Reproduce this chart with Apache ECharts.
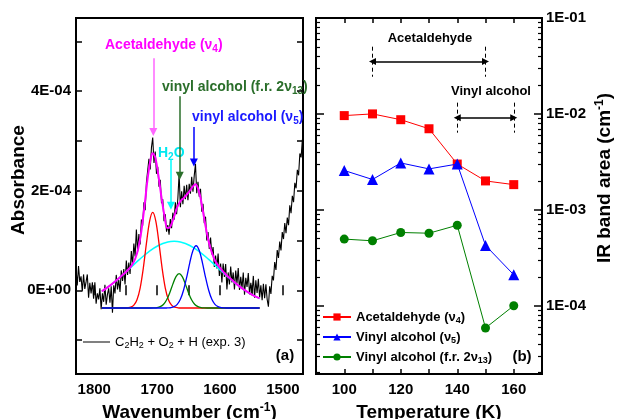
<!DOCTYPE html>
<html><head><meta charset="utf-8">
<script src="https://cdn.jsdelivr.net/npm/echarts@6/dist/echarts.min.js"></script>
<style>html,body{margin:0;padding:0;background:#fff}#c{width:617px;height:419px}</style>
</head><body><div id="c"></div>
<script>
const FONT = '"Liberation Sans", Arial, sans-serif';

// ---------- Panel (a): spectrum and fit components ----------
const spectrum = [
[1829,0.45e-4],[1827,0.10e-4],[1825,0.49e-4],[1823,0.17e-4],[1821,0.28e-4],[1819,-0.02e-4],[1817,0.32e-4],[1815,0.03e-4],
[1813,0.17e-4],[1811,0.32e-4],[1809,-0.15e-4],[1807,0.15e-4],[1805,-0.06e-4],[1803,0.16e-4],[1801,-0.17e-4],[1799,0.16e-4],
[1797,-0.27e-4],[1795,-0.06e-4],[1793,-0.18e-4],[1791,0.04e-4],[1789,-0.38e-4],[1787,-0.06e-4],[1785,-0.23e-4],[1783,0.11e-4],
[1781,-0.29e-4],[1779,-0.08e-4],[1777,0.04e-4],[1775,-0.25e-4],[1773,0.08e-4],[1771,-0.45e-4],[1769,0.10e-4],[1767,-0.06e-4],
[1765,0.31e-4],[1763,0.02e-4],[1761,0.21e-4],[1759,-0.03e-4],[1757,0.40e-4],[1755,0.19e-4],[1753,0.43e-4],[1751,0.12e-4],
[1749,0.60e-4],[1747,0.31e-4],[1745,0.56e-4],[1743,0.33e-4],[1741,0.79e-4],[1739,0.51e-4],[1737,0.94e-4],[1735,0.68e-4],
[1733,1.22e-4],[1731,0.78e-4],[1729,1.13e-4],[1727,0.92e-4],[1725,1.42e-4],[1723,1.30e-4],[1721,1.77e-4],[1719,1.61e-4],
[1717,2.17e-4],[1715,2.16e-4],[1713,2.64e-4],[1711,2.43e-4],[1709,2.87e-4],[1707,3.07e-4],[1705,2.56e-4],[1703,2.79e-4],
[1701,2.34e-4],[1699,2.48e-4],[1697,2.08e-4],[1695,2.22e-4],[1693,1.75e-4],[1691,1.83e-4],[1689,1.39e-4],[1687,1.53e-4],
[1685,1.18e-4],[1683,1.31e-4],[1681,1.12e-4],[1679,1.43e-4],[1677,1.25e-4],[1675,1.56e-4],[1673,1.42e-4],[1671,1.77e-4],
[1669,1.53e-4],[1667,1.85e-4],[1665,2.34e-4],[1663,1.67e-4],[1661,1.99e-4],[1659,1.73e-4],[1657,2.10e-4],[1655,1.83e-4],
[1653,2.12e-4],[1651,1.81e-4],[1649,2.14e-4],[1647,1.94e-4],[1645,2.28e-4],[1643,1.98e-4],[1641,2.30e-4],[1639,2.54e-4],
[1637,1.95e-4],[1635,2.18e-4],[1633,1.88e-4],[1631,2.04e-4],[1629,1.58e-4],[1627,1.74e-4],[1625,1.35e-4],[1623,1.48e-4],
[1621,1.00e-4],[1619,1.17e-4],[1617,0.83e-4],[1615,1.06e-4],[1613,0.72e-4],[1611,0.87e-4],[1609,0.47e-4],[1607,0.70e-4],
[1605,0.44e-4],[1603,0.74e-4],[1601,0.29e-4],[1599,0.54e-4],[1597,0.16e-4],[1595,0.54e-4],[1593,0.27e-4],[1591,0.53e-4],
[1589,0.02e-4],[1587,0.36e-4],[1585,0.12e-4],[1583,0.48e-4],[1581,0.16e-4],[1579,0.36e-4],[1577,0.02e-4],[1575,0.40e-4],
[1573,0.14e-4],[1571,0.45e-4],[1569,0.01e-4],[1567,0.27e-4],[1565,0.04e-4],[1563,0.36e-4],[1561,-0.09e-4],[1559,0.25e-4],
[1557,0.07e-4],[1555,0.35e-4],[1553,-0.08e-4],[1551,0.15e-4],[1549,-0.06e-4],[1547,0.29e-4],[1545,-0.15e-4],[1543,0.20e-4],
[1541,-0.05e-4],[1539,0.23e-4],[1537,-0.14e-4],[1535,0.10e-4],[1533,-0.20e-4],[1531,0.13e-4],[1529,-0.16e-4],[1527,0.12e-4],
[1525,-0.18e-4],[1523,-0.33e-4],[1521,0.08e-4],[1519,-0.07e-4],[1517,0.29e-4],[1515,0.20e-4],[1513,0.57e-4],[1511,0.41e-4],
[1509,0.81e-4],[1507,0.65e-4],[1505,0.98e-4],[1503,0.80e-4],[1501,1.17e-4],[1499,1.03e-4],[1497,1.35e-4],[1495,1.15e-4],
[1493,1.46e-4],[1491,1.31e-4],[1489,1.71e-4],[1487,1.55e-4],[1485,1.90e-4],[1483,1.77e-4],[1481,2.16e-4],[1479,2.05e-4],
[1477,2.42e-4],[1475,2.31e-4],[1473,2.75e-4],[1471,2.67e-4],[1469,3.03e-4]
];
const fitTotal = [
[1788,-0.020e-4],[1775,0.095e-4],[1765,0.197e-4],[1755,0.307e-4],[1745,0.430e-4],[1740,0.509e-4],[1735,0.630e-4],[1730,0.841e-4],
[1725,1.195e-4],[1720,1.700e-4],[1715,2.253e-4],[1710,2.660e-4],[1707,2.754e-4],[1703,2.672e-4],[1698,2.312e-4],[1693,1.861e-4],
[1688,1.47e-4],[1684,1.25e-4],[1680,1.26e-4],[1676,1.37e-4],[1672,1.52e-4],[1668,1.67e-4],[1663,1.79e-4],[1658,1.85e-4],
[1653,1.92e-4],[1648,2.00e-4],[1643,2.09e-4],[1639,2.13e-4],[1635,2.05e-4],[1631,1.86e-4],[1628,1.65e-4],[1623,1.29e-4],
[1618,0.98e-4],[1613,0.76e-4],[1608,0.60e-4],[1600,0.45e-4],[1590,0.31e-4],[1580,0.20e-4],[1570,0.09e-4],[1560,0.00e-4],
[1550,-0.08e-4],[1537,-0.162e-4]
];
const compAcetaldehyde = [
[1788,-0.354e-4],[1750,-0.354e-4],[1747,-0.350e-4],[1742,-0.338e-4],[1737,-0.297e-4],[1732,-0.188e-4],[1727,0.047e-4],
[1722,0.442e-4],[1717,0.944e-4],[1712,1.387e-4],[1707,1.566e-4],[1702,1.387e-4],[1697,0.944e-4],[1692,0.442e-4],
[1687,0.047e-4],[1682,-0.188e-4],[1677,-0.297e-4],[1672,-0.338e-4],[1667,-0.350e-4],[1662,-0.354e-4],[1537,-0.354e-4]
];
const compFermi = [
[1788,-0.354e-4],[1710,-0.354e-4],[1705,-0.352e-4],[1700,-0.346e-4],[1695,-0.328e-4],[1690,-0.284e-4],[1685,-0.194e-4],
[1680,-0.051e-4],[1675,0.125e-4],[1670,0.276e-4],[1665,0.336e-4],[1660,0.276e-4],[1655,0.125e-4],[1650,-0.051e-4],
[1645,-0.194e-4],[1640,-0.284e-4],[1635,-0.328e-4],[1630,-0.346e-4],[1625,-0.352e-4],[1620,-0.354e-4],[1537,-0.354e-4]
];
const compVinylNu5 = [
[1788,-0.354e-4],[1685,-0.354e-4],[1683,-0.352e-4],[1678,-0.346e-4],[1673,-0.328e-4],[1668,-0.281e-4],[1663,-0.180e-4],
[1658,0.001e-4],[1653,0.261e-4],[1648,0.558e-4],[1643,0.801e-4],[1638,0.896e-4],[1633,0.801e-4],[1628,0.558e-4],
[1623,0.261e-4],[1618,0.001e-4],[1613,-0.180e-4],[1608,-0.281e-4],[1603,-0.328e-4],[1598,-0.346e-4],[1593,-0.352e-4],
[1591,-0.354e-4],[1537,-0.354e-4]
];
const compBroad = [
[1788,-0.020e-4],[1773,0.115e-4],[1758,0.273e-4],[1743,0.447e-4],[1728,0.621e-4],[1713,0.779e-4],[1698,0.901e-4],
[1683,0.972e-4],[1673,0.986e-4],[1663,0.972e-4],[1648,0.901e-4],[1633,0.779e-4],[1618,0.621e-4],[1603,0.447e-4],
[1588,0.273e-4],[1573,0.115e-4],[1558,-0.020e-4],[1543,-0.127e-4],[1537,-0.162e-4]
];
const wnTickVals = [1500,1550,1600,1650,1700,1750,1800];
const wnLabelVals = [1500,1600,1700,1800];
const absTickVals = [-1e-4,0,1e-4,2e-4,3e-4,4e-4,5e-4];
const absLabelVals = [0,2e-4,4e-4];
const absLabelText = ['0E+00','2E-04','4E-04'];

// ---------- Panel (b): band areas vs temperature ----------
const temperature = [100,110,120,130,140,150,160];
const areaAcetaldehyde = [9.6e-3,1.0e-2,8.7e-3,7.0e-3,3.0e-3,2.0e-3,1.83e-3];
const areaVinylNu5 = [2.57e-3,2.07e-3,3.08e-3,2.67e-3,3.0e-3,4.25e-4,2.1e-4];
const areaVinylFR = [4.95e-4,4.75e-4,5.8e-4,5.7e-4,6.9e-4,5.86e-5,1.0e-4];
const tempTickVals = [100,110,120,130,140,150,160];
const tempLabelVals = [100,120,140,160];
const areaLabelVals = [1e-4,1e-3,1e-2,1e-1];
const areaLabelText = ['1E-04','1E-03','1E-02','1E-01'];
const seriesNamesB = ['Acetaldehyde (ν4)','Vinyl alcohol (ν5)','Vinyl alcohol (f.r. 2ν13)'];
const legendRichB = ['Acetaldehyde (ν{s|4})','Vinyl alcohol (ν{s|5})','Vinyl alcohol (f.r. 2ν{s|13})'];
const specName = 'C2H2 + O2 + H (exp. 3)';

const pairs = (xs, ys) => xs.map((x, i) => [x, ys[i]]);
const subRich = (size, color, weight) => ({
  s: {fontSize: size, fontFamily: FONT, fontWeight: weight, color: color, lineHeight: size, verticalAlign: 'bottom'}
});
const supRich = (size, weight) => ({
  p: {fontSize: size, fontFamily: FONT, fontWeight: weight, color: '#000', lineHeight: size, verticalAlign: 'top'}
});

const chart = echarts.init(document.getElementById('c'), null, {renderer: 'canvas'});

const tickStyle = {color: '#000', width: 1.5};
const labelBase = {color: '#000', fontFamily: FONT, fontWeight: 'bold', fontSize: 15};

function absFormatter(v) {
  for (let i = 0; i < absLabelVals.length; i++) if (Math.abs(v - absLabelVals[i]) < 1e-9) return absLabelText[i];
  return '';
}
function areaFormatter(v) {
  for (let i = 0; i < areaLabelVals.length; i++) if (Math.abs(Math.log10(v) - Math.log10(areaLabelVals[i])) < 0.01) return areaLabelText[i];
  return '';
}
const plain = (v) => String(v);
const arrowStyle = (c) => ({color: c, width: 1.5, type: 'solid'});
const dashStyle = {color: '#000', width: 1, type: [4, 3]};

const option = {
  animation: false,
  backgroundColor: '#fff',
  grid: [
    {left: 76, top: 18, width: 227, height: 356, show: true, borderColor: '#000', borderWidth: 2, backgroundColor: 'transparent', containLabel: false, outerBoundsMode: 'none'},
    {left: 316, top: 18, width: 226, height: 356, show: true, borderColor: '#000', borderWidth: 2, backgroundColor: 'transparent', containLabel: false, outerBoundsMode: 'none'}
  ],
  xAxis: [
    {gridIndex: 0, type: 'value', min: 1468, max: 1829, inverse: true, position: 'bottom',
     axisLine: {show: false}, splitLine: {show: false},
     axisTick: {inside: true, length: 5, customValues: wnTickVals, lineStyle: tickStyle},
     axisLabel: Object.assign({customValues: wnLabelVals, margin: 8, formatter: plain}, labelBase),
     name: 'Wavenumber (cm{p|-1})', nameLocation: 'middle', nameGap: 25,
     nameTextStyle: {color: '#000', fontFamily: FONT, fontWeight: 'bold', fontSize: 19, lineHeight: 22, rich: supRich(12, 'bold')}},
    {gridIndex: 0, type: 'value', min: 1468, max: 1829, inverse: true, position: 'top',
     axisLine: {show: false}, splitLine: {show: false},
     axisTick: {inside: true, length: 5, customValues: wnTickVals, lineStyle: tickStyle},
     axisLabel: {show: false}},
    {gridIndex: 1, type: 'value', min: 90, max: 170, position: 'bottom',
     axisLine: {show: false}, splitLine: {show: false},
     axisTick: {inside: true, length: 5, customValues: tempTickVals, lineStyle: tickStyle},
     axisLabel: Object.assign({customValues: tempLabelVals, margin: 8, formatter: plain}, labelBase),
     name: 'Temperature (K)', nameLocation: 'middle', nameGap: 25,
     nameTextStyle: {color: '#000', fontFamily: FONT, fontWeight: 'bold', fontSize: 19, lineHeight: 22}},
    {gridIndex: 1, type: 'value', min: 90, max: 170, position: 'top',
     axisLine: {show: false}, splitLine: {show: false},
     axisTick: {inside: true, length: 5, customValues: tempTickVals, lineStyle: tickStyle},
     axisLabel: {show: false}}
  ],
  yAxis: [
    {gridIndex: 0, type: 'value', min: -1.68e-4, max: 5.47e-4, position: 'left',
     axisLine: {show: false}, splitLine: {show: false},
     axisTick: {inside: true, length: 6, customValues: absTickVals, lineStyle: tickStyle},
     axisLabel: Object.assign({customValues: absLabelVals, margin: 5, formatter: absFormatter}, labelBase)},
    {gridIndex: 0, type: 'value', min: -1.68e-4, max: 5.47e-4, position: 'right',
     axisLine: {show: false}, splitLine: {show: false},
     axisTick: {inside: true, length: 6, customValues: absTickVals, lineStyle: tickStyle},
     axisLabel: {show: false}},
    {gridIndex: 1, type: 'log', logBase: 10, min: 1.94e-5, max: 0.1, position: 'right',
     axisLine: {show: false}, splitLine: {show: false},
     axisTick: {inside: true, length: 8, customValues: areaLabelVals, lineStyle: tickStyle},
     minorTick: {show: true, splitNumber: 9, length: 4, lineStyle: {color: '#000', width: 1.2}},
     axisLabel: Object.assign({customValues: areaLabelVals, margin: 4, formatter: areaFormatter}, labelBase)},
    {gridIndex: 1, type: 'log', logBase: 10, min: 1.94e-5, max: 0.1, position: 'left',
     axisLine: {show: false}, splitLine: {show: false},
     axisTick: {inside: true, length: 8, customValues: areaLabelVals, lineStyle: tickStyle},
     minorTick: {show: true, splitNumber: 9, length: 4, lineStyle: {color: '#000', width: 1.2}},
     axisLabel: {show: false}}
  ],
  legend: [
    {data: [{name: specName, icon: 'path://M0,0 L27,0 L27,1 L0,1 Z'}], left: 78, top: 329, itemWidth: 27, itemHeight: 14,
     selectedMode: false, itemGap: 0,
     formatter: () => 'C{s|2}H{s|2} + O{s|2} + H (exp. 3)',
     textStyle: {color: '#000', fontFamily: FONT, fontSize: 13, lineHeight: 16, rich: subRich(9, '#000', 'normal')}},
    {data: seriesNamesB, orient: 'vertical', left: 317, top: 304, itemWidth: 28, itemHeight: 9, itemGap: 4, selectedMode: false,
     formatter: (n) => legendRichB[seriesNamesB.indexOf(n)],
     textStyle: {color: '#000', fontFamily: FONT, fontSize: 13, fontWeight: 'bold', lineHeight: 16, rich: subRich(9, '#000', 'bold')}}
  ],
  series: [
    {name: specName, type: 'line', xAxisIndex: 0, yAxisIndex: 0, data: spectrum, symbol: 'none',
     lineStyle: {color: '#000', width: 1.1}, itemStyle: {color: '#000'}, z: 2},
    {name: 'broad', type: 'line', xAxisIndex: 0, yAxisIndex: 0, data: compBroad, symbol: 'none', smooth: 0.4,
     lineStyle: {color: '#00ffff', width: 1.5}, z: 3},
    {name: 'acet', type: 'line', xAxisIndex: 0, yAxisIndex: 0, data: compAcetaldehyde, symbol: 'none', smooth: 0.3,
     lineStyle: {color: '#ff0000', width: 1.3}, z: 3},
    {name: 'fr', type: 'line', xAxisIndex: 0, yAxisIndex: 0, data: compFermi, symbol: 'none', smooth: 0.3,
     lineStyle: {color: '#008000', width: 1.3}, z: 3},
    {name: 'nu5', type: 'line', xAxisIndex: 0, yAxisIndex: 0, data: compVinylNu5, symbol: 'none', smooth: 0.3,
     lineStyle: {color: '#0000ff', width: 1.3}, z: 3},
    {name: 'fit', type: 'line', xAxisIndex: 0, yAxisIndex: 0, data: fitTotal, symbol: 'none', smooth: 0.3,
     lineStyle: {color: '#ff00ff', width: 2}, z: 4,
     markLine: {silent: true, animation: false, label: {show: false}, symbol: ['none', 'triangle'], symbolSize: 8,
       data: [
         [{coord: [1706, 4.66e-4], lineStyle: arrowStyle('#ff66ff')}, {coord: [1706, 3.18e-4]}],
         [{coord: [1664, 3.90e-4], lineStyle: arrowStyle('#2a6e2a')}, {coord: [1664, 2.30e-4]}],
         [{coord: [1641.5, 3.28e-4], lineStyle: arrowStyle('#0000ff')}, {coord: [1641.5, 2.57e-4]}],
         [{coord: [1678, 2.64e-4], lineStyle: arrowStyle('#00ffff')}, {coord: [1678, 1.70e-4]}]
       ]}},
    {name: seriesNamesB[0], type: 'line', xAxisIndex: 2, yAxisIndex: 2, data: pairs(temperature, areaAcetaldehyde),
     symbol: 'rect', symbolSize: 9, lineStyle: {color: '#ff0000', width: 1}, itemStyle: {color: '#ff0000'}, z: 3,
     markLine: {silent: true, animation: false, label: {show: false},
       data: [
         [{coord: [110, 0.0352], symbol: 'triangle', symbolSize: 7, lineStyle: arrowStyle('#000')}, {coord: [150, 0.0352], symbol: 'triangle', symbolSize: 7}],
         [{coord: [110, 0.0502], symbol: 'none', lineStyle: dashStyle}, {coord: [110, 0.0244], symbol: 'none'}],
         [{coord: [150, 0.0502], symbol: 'none', lineStyle: dashStyle}, {coord: [150, 0.0244], symbol: 'none'}],
         [{coord: [140, 9.13e-3], symbol: 'triangle', symbolSize: 7, lineStyle: arrowStyle('#000')}, {coord: [160, 9.13e-3], symbol: 'triangle', symbolSize: 7}],
         [{coord: [140, 0.0131], symbol: 'none', lineStyle: dashStyle}, {coord: [140, 6.37e-3], symbol: 'none'}],
         [{coord: [160, 0.0131], symbol: 'none', lineStyle: dashStyle}, {coord: [160, 6.37e-3], symbol: 'none'}]
       ]}},
    {name: seriesNamesB[1], type: 'line', xAxisIndex: 2, yAxisIndex: 2, data: pairs(temperature, areaVinylNu5),
     symbol: 'triangle', symbolSize: 11, lineStyle: {color: '#0000ff', width: 1}, itemStyle: {color: '#0000ff'}, z: 4},
    {name: seriesNamesB[2], type: 'line', xAxisIndex: 2, yAxisIndex: 2, data: pairs(temperature, areaVinylFR),
     symbol: 'circle', symbolSize: 9, lineStyle: {color: '#008000', width: 1}, itemStyle: {color: '#008000'}, z: 5}
  ],
  graphic: [
    {type: 'text', x: 19, y: 180, rotation: Math.PI / 2,
     style: {text: 'Absorbance', fontFamily: FONT, fontWeight: 'bold', fontSize: 19, fill: '#000', align: 'center', verticalAlign: 'middle'}},
    {type: 'text', x: 605, y: 178, rotation: Math.PI / 2,
     style: {text: 'IR band area (cm{p|-1})', fontFamily: FONT, fontWeight: 'bold', fontSize: 19, lineHeight: 22, fill: '#000', align: 'center', verticalAlign: 'middle',
       rich: {p: {fontSize: 12, fontFamily: FONT, fontWeight: 'bold', fill: '#000', lineHeight: 12, verticalAlign: 'top'}}}},
    {type: 'text', x: 105, y: 45,
     style: {text: 'Acetaldehyde (ν{s|4})', fontFamily: FONT, fontWeight: 'bold', fontSize: 14, lineHeight: 18, fill: '#ff00ff', align: 'left', verticalAlign: 'middle',
       rich: {s: {fontSize: 10, fontFamily: FONT, fontWeight: 'bold', fill: '#ff00ff', lineHeight: 10, verticalAlign: 'bottom'}}}},
    {type: 'text', x: 162, y: 87,
     style: {text: 'vinyl alcohol (f.r. 2ν{s|13})', fontFamily: FONT, fontWeight: 'bold', fontSize: 14, lineHeight: 18, fill: '#2a6e2a', align: 'left', verticalAlign: 'middle',
       rich: {s: {fontSize: 10, fontFamily: FONT, fontWeight: 'bold', fill: '#2a6e2a', lineHeight: 10, verticalAlign: 'bottom'}}}},
    {type: 'text', x: 192, y: 117,
     style: {text: 'vinyl alcohol (ν{s|5})', fontFamily: FONT, fontWeight: 'bold', fontSize: 14, lineHeight: 18, fill: '#1a1aff', align: 'left', verticalAlign: 'middle',
       rich: {s: {fontSize: 10, fontFamily: FONT, fontWeight: 'bold', fill: '#1a1aff', lineHeight: 10, verticalAlign: 'bottom'}}}},
    {type: 'text', x: 158, y: 153,
     style: {text: 'H{s|2}O', fontFamily: FONT, fontWeight: 'bold', fontSize: 14, lineHeight: 18, fill: '#00e8f0', align: 'left', verticalAlign: 'middle',
       rich: {s: {fontSize: 10, fontFamily: FONT, fontWeight: 'bold', fill: '#00e8f0', lineHeight: 10, verticalAlign: 'bottom'}}}},
    {type: 'text', x: 430, y: 38,
     style: {text: 'Acetaldehyde', fontFamily: FONT, fontWeight: 'bold', fontSize: 13, fill: '#000', align: 'center', verticalAlign: 'middle'}},
    {type: 'text', x: 491, y: 91,
     style: {text: 'Vinyl alcohol', fontFamily: FONT, fontWeight: 'bold', fontSize: 13, fill: '#000', align: 'center', verticalAlign: 'middle'}},
    {type: 'text', x: 285, y: 356,
     style: {text: '(a)', fontFamily: FONT, fontWeight: 'bold', fontSize: 15, fill: '#000', align: 'center', verticalAlign: 'middle'}},
    {type: 'text', x: 522, y: 357,
     style: {text: '(b)', fontFamily: FONT, fontWeight: 'bold', fontSize: 15, fill: '#000', align: 'center', verticalAlign: 'middle'}}
  ]
};
chart.setOption(option);
</script>
</body></html>
